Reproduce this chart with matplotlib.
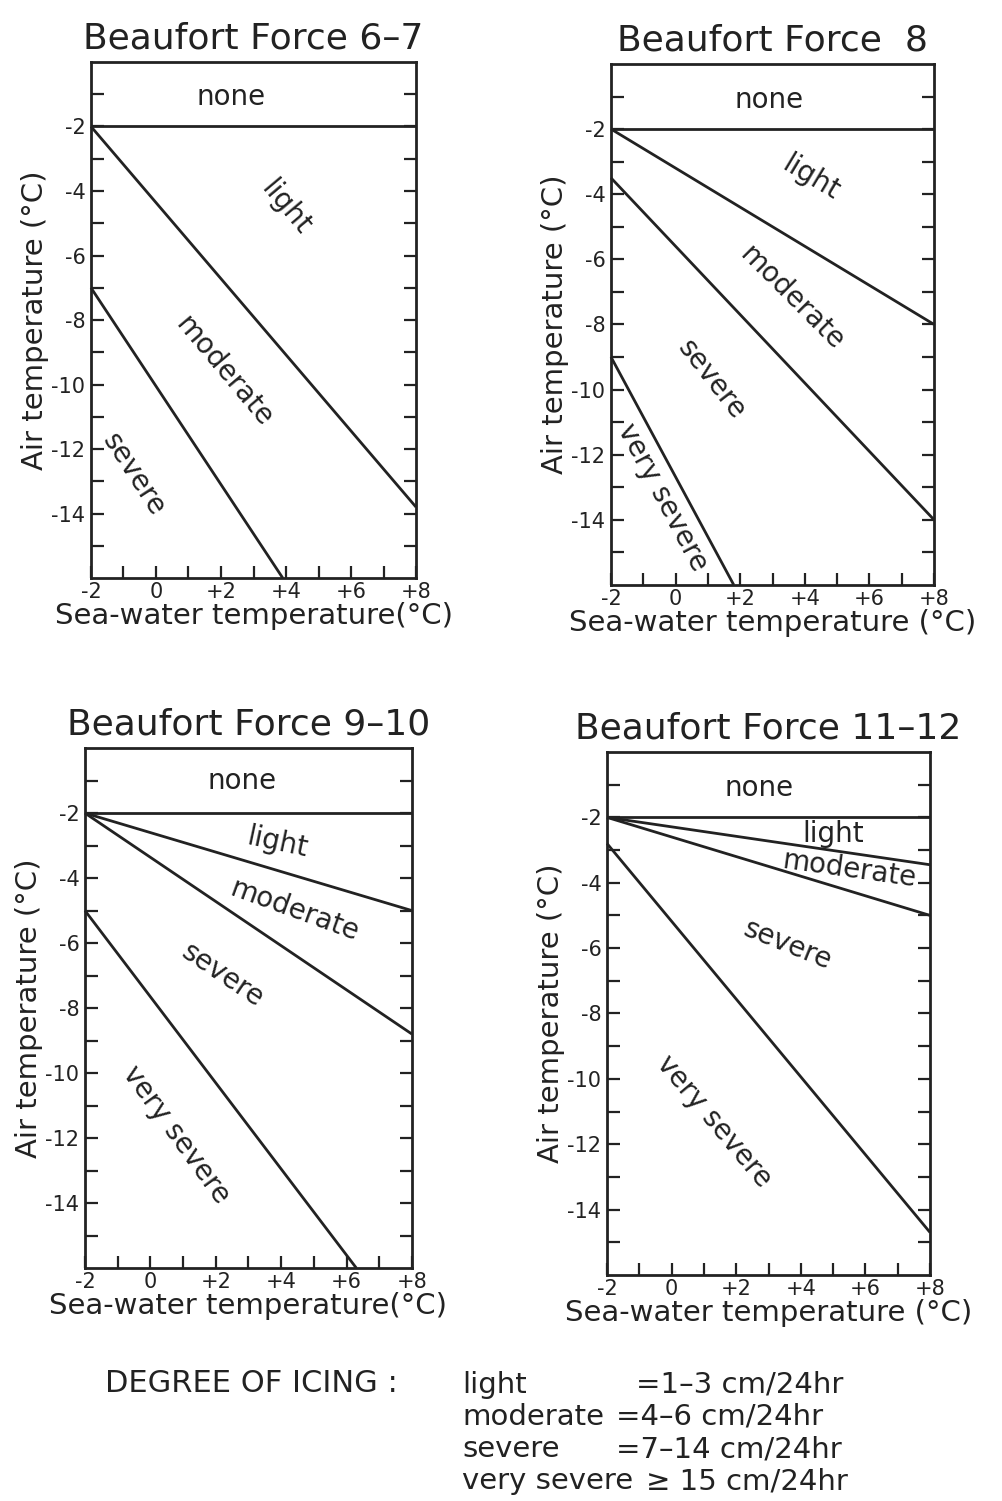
"""Icing degree charts for four Beaufort force ranges."""

import matplotlib.pyplot as plt

plt.rcParams["font.family"] = ["DejaVu Sans"]

INK = "#222222"

titles = ["Beaufort Force 6\u20137", "Beaufort Force  8",
          "Beaufort Force 9\u201310", "Beaufort Force 11\u201312"]
x_titles = ["Sea-water temperature(\u00b0C)", "Sea-water temperature (\u00b0C)",
            "Sea-water temperature(\u00b0C)", "Sea-water temperature (\u00b0C)"]

# zone boundaries: sea-water temperature at the two ends, air temperature at the two ends
f67_sea = [(-2, 8), (-2, 8), (-2, 3.9)]
f67_air = [(-2, -2), (-2, -13.8), (-7, -16)]
f8_sea = [(-2, 8), (-2, 8), (-2, 8), (-2, 1.8)]
f8_air = [(-2, -2), (-2, -8), (-3.5, -14), (-9, -16)]
f910_sea = [(-2, 8), (-2, 8), (-2, 8), (-2, 6.3)]
f910_air = [(-2, -2), (-2, -5), (-2, -8.8), (-5, -16)]
f1112_sea = [(-2, 8), (-2, 8), (-2, 8), (-2, 8)]
f1112_air = [(-2, -2), (-2, -3.45), (-2, -5), (-2.8, -14.7)]

f67_zones = ["none", "light", "moderate", "severe"]
f8_zones = ["none", "light", "moderate", "severe", "very severe"]
f910_zones = ["none", "light", "moderate", "severe", "very severe"]
f1112_zones = ["none", "light", "moderate", "severe", "very severe"]

x_ticks = [-2, 0, 2, 4, 6, 8]
x_tick_labels = ["-2", "0", "+2", "+4", "+6", "+8"]
y_ticks = [-2, -4, -6, -8, -10, -12, -14]
y_tick_labels = ["-2", "-4", "-6", "-8", "-10", "-12", "-14"]

icing_names = ["light", "moderate", "severe", "very severe"]
icing_rates = ["=1\u20133 cm/24hr", "=4\u20136 cm/24hr", "=7\u201314 cm/24hr", "\u2265 15 cm/24hr"]

# axes rectangles in figure fractions
panel_rects = [
    [0.0908, 0.6149, 0.3244, 0.3438],
    [0.6098, 0.6103, 0.3224, 0.3471],
    [0.0848, 0.1552, 0.3263, 0.3464],
    [0.6058, 0.1506, 0.3224, 0.3484],
]

# zone label placement: (x, y, rotation in degrees)
label_spots = [
    [(2.3, -1.1, 0), (4.0, -4.5, -50), (2.1, -9.6, -50), (-0.7, -12.8, -57)],
    [(2.9, -1.1, 0), (4.2, -3.5, -31), (3.6, -7.2, -45), (1.1, -9.7, -52), (-0.4, -13.3, -62)],
    [(2.8, -1.0, 0), (3.9, -2.9, -12), (4.4, -5.0, -20), (2.2, -7.0, -34), (0.8, -11.9, -54)],
    [(2.7, -1.1, 0), (5.0, -2.5, 0), (5.5, -3.6, -8), (3.6, -5.9, -22), (1.3, -11.3, -50)],
]


def _style_axes(axes, x_title) -> None:
    """Box, inward ticks and labels shared by every panel."""
    axes.set_xlim(-2, 8)
    axes.set_ylim(-16, 0)
    axes.set_xticks(x_ticks, x_tick_labels)
    axes.set_yticks(y_ticks, y_tick_labels)
    axes.set_xticks(range(-1, 8), minor=True)
    axes.set_yticks(range(-15, 0), minor=True)
    axes.tick_params(which="both", direction="in", length=9, width=1.6,
                     color=INK, left=True, right=True, top=False, bottom=True)
    axes.tick_params(axis="x", labelsize=15, pad=3, labelcolor=INK)
    axes.tick_params(axis="y", labelsize=15, pad=4, labelcolor=INK)
    for spine in axes.spines.values():
        spine.set_linewidth(2.0)
        spine.set_color(INK)
    axes.set_xlabel(x_title, fontsize=21, color=INK, labelpad=0)
    axes.set_ylabel("Air temperature (\u00b0C)", fontsize=21, color=INK, labelpad=2)


def draw_panel(figure, rect, title, x_title, sea, air, zones, spots) -> None:
    axes = figure.add_axes(rect)
    _style_axes(axes, x_title)
    axes.set_title(title, fontsize=26, color=INK, pad=10)
    for xs, ys in zip(sea, air):
        axes.plot(xs, ys, color=INK, linewidth=2.0, solid_capstyle="butt", clip_on=False)
    for name, (x, y, angle) in zip(zones, spots):
        axes.text(x, y, name, fontsize=20, color=INK, rotation=angle,
                  ha="center", va="center", rotation_mode="anchor")


figure = plt.figure(figsize=(10.02, 15.01), dpi=100)
panels = [
    (f67_sea, f67_air, f67_zones),
    (f8_sea, f8_air, f8_zones),
    (f910_sea, f910_air, f910_zones),
    (f1112_sea, f1112_air, f1112_zones),
]
for rect, title, x_title, (sea, air, zones), spots in zip(panel_rects, titles, x_titles,
                                                          panels, label_spots):
    draw_panel(figure, rect, title, x_title, sea, air, zones, spots)

figure.text(0.105, 0.0786, "DEGREE OF ICING :", fontsize=22, color=INK, va="center")
row_y = [0.0773, 0.0560, 0.0346, 0.0133]
rate_x = [0.635, 0.615, 0.615, 0.645]
for name, rate, y, rx in zip(icing_names, icing_rates, row_y, rate_x):
    figure.text(0.461, y, name, fontsize=21, color=INK, va="center")
    figure.text(rx, y, rate, fontsize=21, color=INK, va="center")

figure.savefig("out.png", dpi=100, facecolor="white")
